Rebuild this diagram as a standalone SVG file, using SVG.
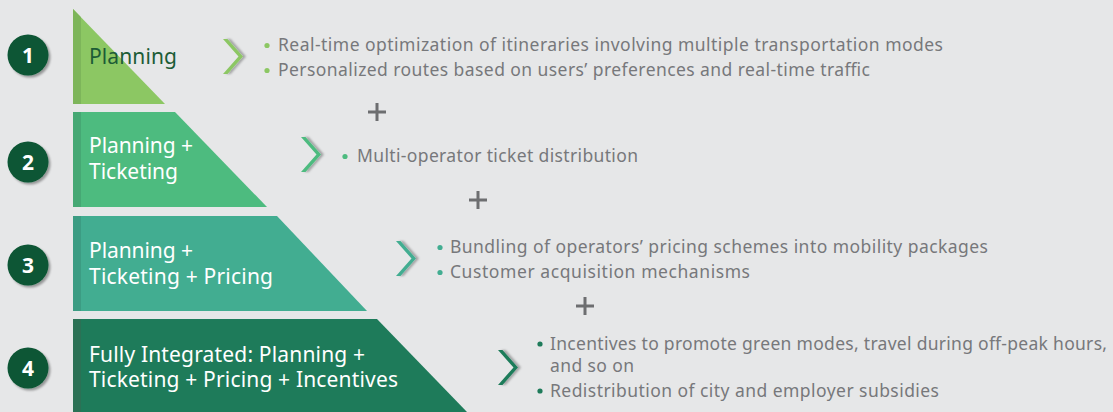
<svg xmlns="http://www.w3.org/2000/svg" width="1113" height="412" viewBox="0 0 1113 412">
  <defs>
    <filter id="shadow" x="-30%" y="-30%" width="170%" height="170%">
      <feGaussianBlur in="SourceAlpha" stdDeviation="1.3"/>
      <feOffset dx="2" dy="2" result="b"/>
      <feFlood flood-color="#000" flood-opacity="0.35"/>
      <feComposite in2="b" operator="in"/>
      <feMerge><feMergeNode/><feMergeNode in="SourceGraphic"/></feMerge>
    </filter>
    <filter id="chevShadow" x="-60%" y="-20%" width="220%" height="140%">
      <feGaussianBlur in="SourceAlpha" stdDeviation="1.2"/>
      <feOffset dx="3" dy="0" result="b"/>
      <feFlood flood-color="#000" flood-opacity="0.3"/>
      <feComposite in2="b" operator="in"/>
      <feMerge><feMergeNode/><feMergeNode in="SourceGraphic"/></feMerge>
    </filter>
    <path id="chev" d="M0,0 L4.5,0 L20,17.5 L4.5,35 L0,35 L15.5,17.5 Z"/>
    <path id="plus" d="M-9,0 H9 M0,-9 V9"/>
  </defs>
  <style>
    .num { fill: #0d5634; filter: url(#shadow); }
    .numtxt { font-family: "Noto Sans", "Liberation Sans", sans-serif; font-weight: bold; font-size: 21px; fill: #ffffff; text-anchor: middle; }
    .label { font-family: "Noto Sans", "Liberation Sans", sans-serif; font-size: 21px; fill: #ffffff; }
    .bullet { font-family: "Noto Sans", "Liberation Sans", sans-serif; font-size: 17.5px; fill: #77787b; }
    .plus { stroke: #6d6e70; stroke-width: 3; fill: none; }
    .c1 { fill: #8cc763; }
    .c2 { fill: #4dbb7f; }
    .c3 { fill: #42ad91; }
    .c4 { fill: #1e7b5a; }
  </style>

  <rect width="1113" height="412" fill="#e6e7e8"/>

  <!-- Level 1 -->
  <g id="level1">
    <circle class="num" cx="28" cy="55" r="20.5"/>
    <text class="numtxt" x="28" y="62.5">1</text>
    <polygon class="c1" points="73,9 165,104 73,104"/>
    <polygon fill="#7db55a" points="73,9 81,17.3 81,104 73,104"/>
    <text class="label" x="89" y="63.5" style="fill:#1c5c36" textLength="88">Planning</text>
    <use href="#chev" x="223" y="39" class="c1" filter="url(#chevShadow)"/>
    <circle class="c1" cx="267" cy="45.5" r="2.6"/>
    <text class="bullet" x="278" y="51" textLength="665">Real-time optimization of itineraries involving multiple transportation modes</text>
    <circle class="c1" cx="267" cy="70.5" r="2.6"/>
    <text class="bullet" x="278" y="76" textLength="592">Personalized routes based on users’ preferences and real-time traffic</text>
  </g>

  <!-- Level 2 -->
  <g id="level2">
    <circle class="num" cx="28" cy="162" r="20.5"/>
    <text class="numtxt" x="28" y="169.5">2</text>
    <polygon class="c2" points="73,112 175,112 267,207 73,207"/>
    <rect x="73" y="112" width="8" height="95" fill="#46a874"/>
    <text class="label" x="89" y="153" textLength="104">Planning +</text>
    <text class="label" x="89" y="179" textLength="89">Ticketing</text>
    <use href="#chev" x="301" y="137" class="c2" filter="url(#chevShadow)"/>
    <circle class="c2" cx="345" cy="156.5" r="2.6"/>
    <text class="bullet" x="357" y="162" textLength="281">Multi-operator ticket distribution</text>
  </g>

  <!-- Level 3 -->
  <g id="level3">
    <circle class="num" cx="28" cy="265" r="20.5"/>
    <text class="numtxt" x="28" y="272.5">3</text>
    <polygon class="c3" points="73,216 277,216 367,311 73,311"/>
    <rect x="73" y="216" width="8" height="95" fill="#3c9c83"/>
    <text class="label" x="89" y="258" textLength="104">Planning +</text>
    <text class="label" x="89" y="284" textLength="184">Ticketing + Pricing</text>
    <use href="#chev" x="396" y="241" class="c3" filter="url(#chevShadow)"/>
    <circle class="c3" cx="440" cy="247.5" r="2.6"/>
    <text class="bullet" x="450" y="253" textLength="538">Bundling of operators’ pricing schemes into mobility packages</text>
    <circle class="c3" cx="440" cy="272.5" r="2.6"/>
    <text class="bullet" x="450" y="278" textLength="300">Customer acquisition mechanisms</text>
  </g>

  <!-- Level 4 -->
  <g id="level4">
    <circle class="num" cx="28" cy="368" r="20.5"/>
    <text class="numtxt" x="28" y="375.5">4</text>
    <polygon class="c4" points="73,319 377,319 467,412 73,412"/>
    <rect x="73" y="319" width="8" height="93" fill="#2b7155"/>
    <text class="label" x="89" y="362" textLength="276">Fully Integrated: Planning +</text>
    <text class="label" x="89" y="387" textLength="309">Ticketing + Pricing + Incentives</text>
    <use href="#chev" x="498" y="350" class="c4" filter="url(#chevShadow)"/>
    <circle class="c4" cx="540" cy="344" r="2.6"/>
    <text class="bullet" x="550" y="350" textLength="557">Incentives to promote green modes, travel during off-peak hours,</text>
    <text class="bullet" x="550" y="372" textLength="84">and so on</text>
    <circle class="c4" cx="540" cy="391" r="2.6"/>
    <text class="bullet" x="550" y="397" textLength="389">Redistribution of city and employer subsidies</text>
  </g>

  <!-- Connectors: plus signs between levels -->
  <g id="connectors">
    <use href="#plus" x="377" y="112" class="plus"/>
    <use href="#plus" x="478" y="200" class="plus"/>
    <use href="#plus" x="585" y="306" class="plus"/>
  </g>
</svg>
